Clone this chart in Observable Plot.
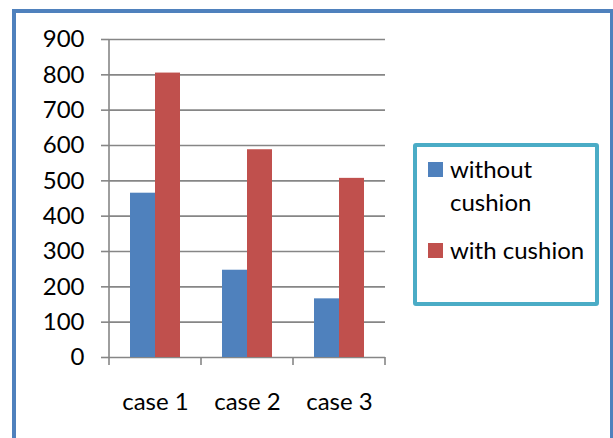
<!DOCTYPE html>
<html>
<head>
<meta charset="utf-8">
<script src="https://cdn.jsdelivr.net/npm/d3@7"></script>
<script src="https://cdn.jsdelivr.net/npm/@observablehq/plot@0.6"></script>
<style>
  html, body { margin: 0; padding: 0; background: #fff; }
  #wrap { position: relative; width: 613px; height: 438px; overflow: hidden; background: #fff; font-family: Lato, "Open Sans", sans-serif; }
  #border { position: absolute; left: 12px; top: 9px; width: 594px; height: 440px; border: 4px solid #4f81bd; box-sizing: content-box; }
  #chart { position: absolute; left: 0; top: 0; }
  #legend { position: absolute; left: 413px; top: 143px; width: 178px; height: 155px; border: 4px solid #4bacc6; border-radius: 3px; font-size: 24px; color: #000; }
  .item { position: absolute; left: 33px; line-height: 33px; white-space: nowrap; }
  .swatch { position: absolute; left: -22px; top: 10px; width: 15px; height: 15px; }
</style>
</head>
<body>
<div id="wrap">
  <div id="border"></div>
  <div id="chart"></div>
  <div id="legend"></div>
</div>
<script>
// Categories, series and values
const cases = ["case 1", "case 2", "case 3"];
const series = ["without cushion", "with cushion"];
const withoutCushion = [465, 247, 166];
const withCushion = [805, 588, 507];
const yTicks = [0, 100, 200, 300, 400, 500, 600, 700, 800, 900];
const colors = ["#4f81bd", "#c0504d"];

const table = cases.flatMap((c, i) => [
  {case: c, series: series[0], value: withoutCushion[i]},
  {case: c, series: series[1], value: withCushion[i]}
]);

const gray = "#868686";

const plot = Plot.plot({
  width: 400,
  height: 438,
  marginLeft: 108,
  marginRight: 15,
  marginTop: 39,
  marginBottom: 81,
  style: {fontFamily: "Lato, 'Open Sans', sans-serif", fontSize: "24px", color: "#000", background: "transparent", overflow: "visible"},
  fx: {domain: cases, padding: 0, label: null},
  x: {domain: series, paddingInner: 0, paddingOuter: 0.775, axis: null},
  y: {domain: [0, 900], label: null},
  color: {domain: series, range: colors},
  marks: [
    Plot.gridY(yTicks, {stroke: gray, strokeOpacity: 1, strokeWidth: 1.6}),
    Plot.barY(table, {fx: "case", x: "series", y: "value", fill: "series"}),
    Plot.axisY(yTicks, {tickSize: 8, tickPadding: 17, stroke: gray, strokeWidth: 1.6, label: null}),
    Plot.axisFx({anchor: "bottom", tickSize: 0, tickPadding: 35, label: null})
  ]
});

// Axis line on the left and the tick marks between the categories
const fx = plot.scale("fx");
const y = plot.scale("y");
const g = d3.select(plot).append("g").attr("stroke", gray).attr("stroke-width", 1.6);
const left = fx.apply(cases[0]);
g.append("line").attr("x1", left).attr("x2", left).attr("y1", y.apply(900)).attr("y2", y.apply(0) + 8);
const edges = cases.slice(1).map(c => fx.apply(c)).concat([fx.apply(cases[cases.length - 1]) + fx.bandwidth]);
g.selectAll(null).data(edges).join("line")
  .attr("x1", d => d).attr("x2", d => d)
  .attr("y1", y.apply(0)).attr("y2", y.apply(0) + 8);

document.getElementById("chart").appendChild(plot);

// Legend
const legend = d3.select("#legend");
const labels = [["without", "cushion"], ["with cushion"]];
const tops = [5, 86];
series.forEach((s, i) => {
  const item = legend.append("div").attr("class", "item").style("top", tops[i] + "px");
  item.append("div").attr("class", "swatch").style("background", colors[i]);
  item.html(item.html() + labels[i].join("<br>"));
});
</script>
</body>
</html>
